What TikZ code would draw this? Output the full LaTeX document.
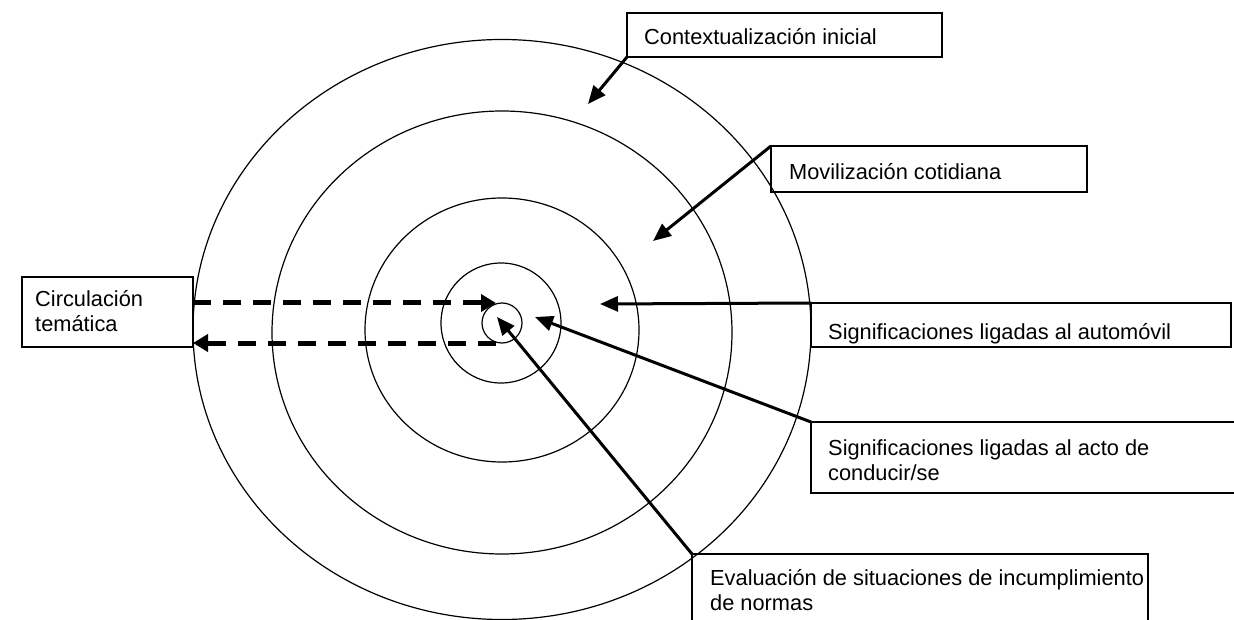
\documentclass[tikz,border=0pt]{standalone}
\usepackage{fontspec}
\setmainfont{Liberation Sans}
\usetikzlibrary{arrows.meta}
\begin{document}
\begin{tikzpicture}[x=1pt,y=-1pt,
  ring/.style={draw, line width=1.2pt},
  box/.style={draw, line width=1.2pt, inner sep=0pt, outer sep=0pt, anchor=north west},
  lbl/.style={anchor=base west, inner sep=0pt, font=\fontsize{21.8}{25}\selectfont, align=left},
  pointer/.style={line width=3pt, -{Triangle[length=18pt,width=15pt]}},
  flow/.style={line width=5pt, dash pattern=on 18pt off 12pt, -{Triangle[length=15pt,width=17pt]}}]
\useasboundingbox (0,0) rectangle (1234,620);
\clip (0,0) rectangle (1234,620);
% rings
\draw[ring] (502,329.5) ellipse [x radius=309pt, y radius=290pt];
\draw[ring] (502,332.5) ellipse [x radius=230pt, y radius=221.5pt];
\draw[ring] (502,330) ellipse [x radius=137pt, y radius=132pt];
\draw[ring] (501,323) circle [radius=60pt];
\draw[ring] (502,323) circle [radius=20pt];
% boxes
\node[box, minimum width=315pt, minimum height=44pt] (ctxbox) at (627,13) {};
\node[box, minimum width=316pt, minimum height=46pt] (movbox) at (771,146) {};
\node[box, minimum width=420pt, minimum height=44pt] (autobox) at (811,303) {};
\node[box, minimum width=440pt, minimum height=71pt] (condbox) at (811,422) {};
\node[box, minimum width=456pt, minimum height=80pt] (evalbox) at (692,554) {};
\node[box, minimum width=171pt, minimum height=70pt] (circbox) at (22,277) {};
% labels (base = last line)
\node[lbl] (ctxtxt) at (644,45) {Contextualización inicial};
\node[lbl] (movtxt) at (789,180) {Movilización cotidiana};
\node[lbl] (autotxt) at (828,339) {Significaciones ligadas al automóvil};
\node[lbl] (condtxt) at (828,480) {Significaciones ligadas al acto de\\conducir/se};
\node[lbl] (evaltxt) at (710,610) {Evaluación de situaciones de incumplimiento\\de normas};
\node[lbl] (circtxt) at (35,331) {Circulación\\temática};
% pointer targets
\coordinate (ctxtip) at (588,104);
\coordinate (movtip) at (653,241);
\coordinate (autotip) at (600,304);
\coordinate (condtip) at (535,317);
\coordinate (evaltip) at (497,317);
\coordinate (outA) at (193,303);
\coordinate (inA) at (496,303);
\coordinate (inB) at (496,343);
\coordinate (outB) at (193,343);
% connectors
\draw[pointer] (ctxbox.south west) -- (ctxtip);
\draw[pointer] (movbox.north west) -- (movtip);
\draw[pointer] (autobox.north west) -- (autotip);
\draw[pointer] (condbox.north west) -- (condtip);
\draw[pointer] (evalbox.north west) -- (evaltip);
\draw[flow] (outA) -- (inA);
\draw[flow] (inB) -- (outB);
\end{tikzpicture}
\end{document}
